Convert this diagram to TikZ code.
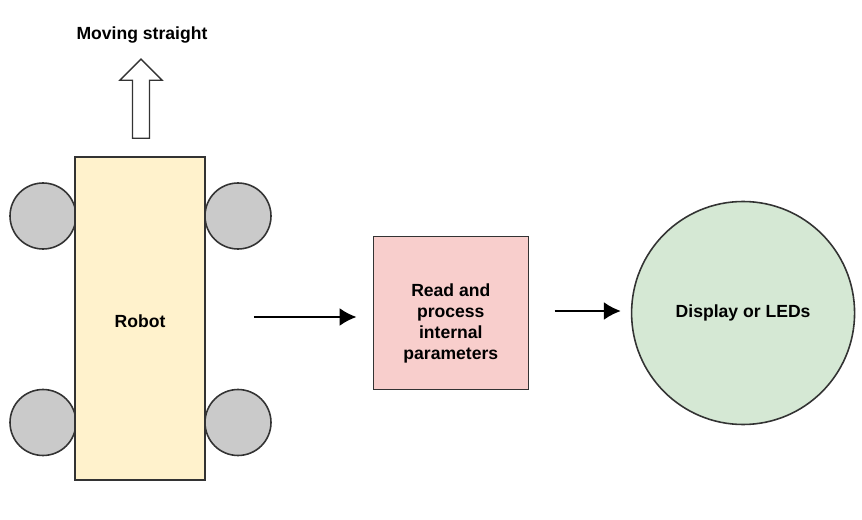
\documentclass[tikz,border=0pt]{standalone}
\usepackage{fontspec}
\setmainfont{Liberation Sans}
\usepackage{tikz}
\usetikzlibrary{shapes,arrows,arrows.meta,backgrounds}

\definecolor{robotfill}{HTML}{FFF2CC}
\definecolor{procfill}{HTML}{F8CECC}
\definecolor{displayfill}{HTML}{D5E8D4}
\definecolor{wheelfill}{HTML}{CACACA}
\definecolor{edgegray}{HTML}{333333}

\begin{document}
\begin{tikzpicture}

\pgfdeclarelayer{background}
\pgfdeclarelayer{foreground}
\pgfsetlayers{background,main,foreground}

\tikzstyle{block} = [draw=edgegray, line width=0.9pt, text centered, font=\fontsize{10}{12}\selectfont\bfseries]
\tikzstyle{wheel} = [draw=edgegray, line width=0.9pt, circle, fill=wheelfill, minimum size=1.32cm, inner sep=0pt]
\tikzstyle{flow} = [-{Latex[length=0.34cm,width=0.36cm]}, line width=1.1pt, black]

\useasboundingbox (0,0) rectangle (17.24,-10.40);

%Robot: left

\path (2.80,-6.37) node (robot) [block, fill=robotfill, minimum width=2.60cm, minimum height=6.46cm] {\raisebox{-0.06cm}[\height][\depth]{Robot}};

\begin{pgfonlayer}{background}
\path (robot)+(-1.94,2.05) node (wheel_tl) [wheel] {};
\path (robot)+(1.96,2.05) node (wheel_tr) [wheel] {};
\path (robot)+(-1.94,-2.08) node (wheel_bl) [wheel] {};
\path (robot)+(1.96,-2.08) node (wheel_br) [wheel] {};
\end{pgfonlayer}

%Moving straight: top left

\path (robot.north)+(0.02,0.36) coordinate (move_base);
\draw [draw=edgegray, line width=0.8pt, fill=white] (move_base)+(-0.17,0) -- +(-0.17,1.16) -- +(-0.42,1.16) -- +(0,1.58) -- +(0.42,1.16) -- +(0.17,1.16) -- +(0.17,0) -- cycle;

\path (move_base)+(0.02,2.06) node (move_text) [font=\fontsize{10}{12}\selectfont\bfseries] {Moving straight};

%Processing: middle

\path (robot.east)+(4.90,0.11) node (proc) [block, fill=procfill, minimum width=3.10cm, minimum height=3.06cm] {\raisebox{-0.22cm}[\height][\depth]{\begin{tabular}{@{}c@{}}Read and\\process\\internal\\parameters\end{tabular}}};

%Display: right

\path (proc.east)+(4.28,0) node (display) [block, circle, fill=displayfill, minimum size=4.46cm, inner sep=0pt] {Display or LEDs};

%Arrows

\path (robot.east)+(0.96,0.03) coordinate (arrow_1l);
\path (proc.west)+(-0.32,-0.08) coordinate (arrow_1r);

\draw [flow] (arrow_1l) -- (arrow_1r);

\path (proc.east)+(0.51,0.04) coordinate (arrow_2l);
\path (display.west)+(-0.20,0.04) coordinate (arrow_2r);

\draw [flow] (arrow_2l) -- (arrow_2r);

\end{tikzpicture}
\end{document}
